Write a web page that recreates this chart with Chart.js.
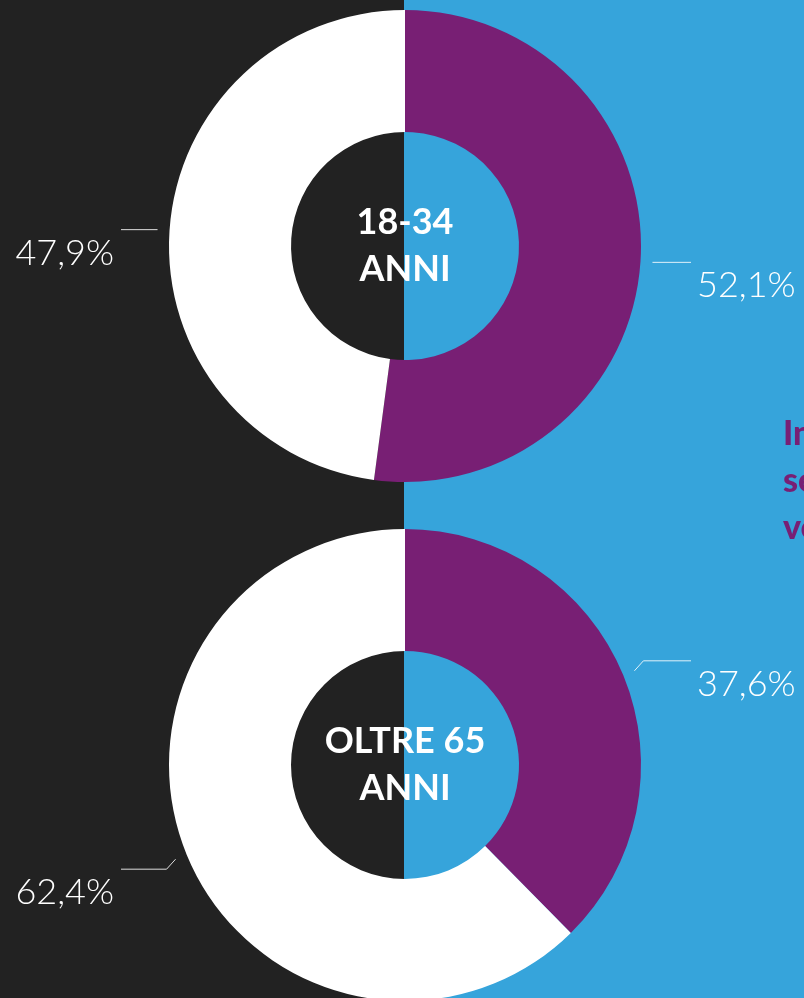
<!DOCTYPE html>
<html>
<head>
<meta charset="utf-8">
<script src="https://cdn.jsdelivr.net/npm/chart.js@4"></script>
<style>
  html, body { margin: 0; padding: 0; width: 804px; height: 998px; overflow: hidden; }
  body { background: linear-gradient(to right, #222222 404px, #36a4db 404px); position: relative; font-family: Lato, sans-serif; }
  canvas { position: absolute; left: 0; }
  #c1 { top: 0; }
  #c2 { top: 519px; }
  .side { position: absolute; left: 783px; top: 408px; color: #781f74; font: 900 34px Lato, sans-serif; line-height: 47px; white-space: nowrap; }
</style>
</head>
<body>
<canvas id="c1" width="804" height="500"></canvas>
<canvas id="c2" width="804" height="500"></canvas>
<div class="side">Intervistati<br>secondo<br>voto</div>
<script>
// data
const groups = ['18-34 ANNI', 'OLTRE 65 ANNI'];
const centerLines = [['18-34', 'ANNI'], ['OLTRE 65', 'ANNI']];
const purpleShare = [52.1, 37.6];
const whiteShare = [47.9, 62.4];

const PURPLE = '#781f74';
const WHITE = '#ffffff';

const fmt = v => v.toFixed(1).replace('.', ',') + '%';

const labelsPlugin = {
    id: 'donutLabels',
    afterDraw(chart, args, opts) {
        const ctx = chart.ctx;
        const arcs = chart.getDatasetMeta(0).data;
        const cx = arcs[0].x, cy = arcs[0].y, r = arcs[0].outerRadius;
        const values = chart.data.datasets[0].data;

        ctx.save();
        // center text
        ctx.fillStyle = '#fff';
        ctx.textAlign = 'center';
        ctx.font = '700 36px Lato, sans-serif';
        ctx.fillText(opts.lines[0], cx, cy - 12);
        ctx.fillText(opts.lines[1], cx, cy + 35);

        // leader lines + percent labels
        arcs.forEach((arc, i) => {
            const mid = (arc.startAngle + arc.endAngle) / 2;
            const dx = Math.cos(mid), dy = Math.sin(mid);
            const right = dx > 0;
            const px = cx + dx * (r + 12), py = cy + dy * (r + 12);
            let ly = py;
            ctx.strokeStyle = 'rgba(255,255,255,0.85)';
            ctx.lineWidth = 1;
            ctx.beginPath();
            ctx.moveTo(px, py);
            if (Math.abs(dy) > 0.2) {
                ly = py + Math.sign(dy) * 10;
                ctx.lineTo(px + (right ? 9 : -9), ly);
            }
            ctx.lineTo(right ? 691 : 121, ly);
            ctx.stroke();

            ctx.fillStyle = '#fff';
            ctx.font = '300 36px Lato, sans-serif';
            ctx.textAlign = right ? 'left' : 'right';
            ctx.fillText(fmt(values[i]), right ? 697 : 114, ly + 35);
        });
        ctx.restore();
    }
};

const makeChart = (id, idx) => new Chart(document.getElementById(id), {
    type: 'doughnut',
    data: {
        labels: ['Viola', 'Bianco'],
        datasets: [{
            data: [purpleShare[idx], whiteShare[idx]],
            backgroundColor: [PURPLE, WHITE],
            borderWidth: 0
        }]
    },
    options: {
        responsive: false,
        animation: false,
        cutout: '48.3%',
        layout: { padding: { left: 169, right: 163, top: 10, bottom: 18 } },
        events: [],
        plugins: {
            legend: { display: false },
            tooltip: { enabled: false },
            donutLabels: { lines: centerLines[idx] }
        }
    },
    plugins: [labelsPlugin]
});

makeChart('c1', 0);
makeChart('c2', 1);
</script>
</body>
</html>
